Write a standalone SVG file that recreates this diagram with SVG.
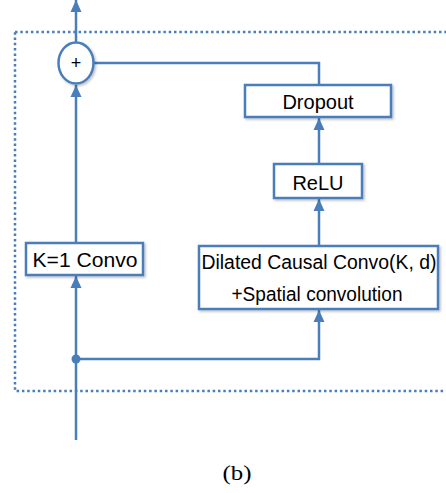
<svg xmlns="http://www.w3.org/2000/svg" width="446" height="493" viewBox="0 0 446 493">
<defs>
<style>
.ln{fill:none;stroke:#4a7ebb;stroke-width:2.5}
.box{fill:#ffffff;stroke:#4a7ebb;stroke-width:2.5;filter:url(#sh)}
.t{font-family:"Liberation Sans",Arial,sans-serif;font-size:20px;fill:#000;text-anchor:middle}
</style>
<filter id="sh" x="-10%" y="-20%" width="130%" height="150%">
<feDropShadow dx="1.5" dy="1.5" stdDeviation="1" flood-color="#000" flood-opacity="0.25"/>
</filter>
<marker id="ah" markerUnits="userSpaceOnUse" markerWidth="12" markerHeight="12" viewBox="0 0 12 12" refX="12" refY="6" orient="auto">
<path d="M0,0.5 L12,6 L0,11.5 Z" fill="#4a7ebb"/>
</marker>
</defs>
<rect x="15" y="32" width="440" height="359" fill="none" stroke="#4a7ebb" stroke-width="2.5" stroke-dasharray="2.5 2.8"/>
<g id="connectors">
<line class="ln" x1="76" y1="42" x2="76" y2="0" marker-end="url(#ah)"/>
<polyline class="ln" points="94,63 319,63 319,85"/>
<line class="ln" x1="319" y1="164" x2="319" y2="118" marker-end="url(#ah)"/>
<line class="ln" x1="319" y1="246" x2="319" y2="199" marker-end="url(#ah)"/>
<line class="ln" x1="76" y1="243" x2="76" y2="85" marker-end="url(#ah)"/>
<line class="ln" x1="76" y1="440" x2="76" y2="359"/>
<line class="ln" x1="76" y1="359" x2="76" y2="276" marker-end="url(#ah)"/>
<polyline class="ln" points="76,359 319,359 319,310" marker-end="url(#ah)"/>
<circle cx="76" cy="359" r="4.5" fill="#4a7ebb"/>
</g>
<g id="sum">
<ellipse cx="76" cy="63" rx="17.5" ry="20.5" class="box"/>
<text x="76" y="69" class="t" style="font-size:18px">+</text>
</g>
<g id="dropout">
<rect x="245" y="85" width="146" height="32" class="box"/>
<text x="318" y="109" class="t">Dropout</text>
</g>
<g id="relu">
<rect x="274" y="164" width="88" height="34" class="box"/>
<text x="318" y="190" class="t">ReLU</text>
</g>
<g id="k1conv">
<rect x="26" y="243" width="117" height="32" class="box"/>
<text x="85" y="267" class="t" textLength="105" lengthAdjust="spacingAndGlyphs">K=1 Convo</text>
</g>
<g id="dilated">
<rect x="199" y="246" width="239" height="63" class="box"/>
<text x="319" y="269" class="t" textLength="235" lengthAdjust="spacingAndGlyphs">Dilated Causal Convo(K, d)</text>
<text x="317" y="301" class="t" textLength="171" lengthAdjust="spacingAndGlyphs">+Spatial convolution</text>
</g>
<text x="237" y="480" style="font-family:'Liberation Serif','Times New Roman',serif;font-size:20px;text-anchor:middle" textLength="29" lengthAdjust="spacingAndGlyphs">(b)</text>
</svg>
